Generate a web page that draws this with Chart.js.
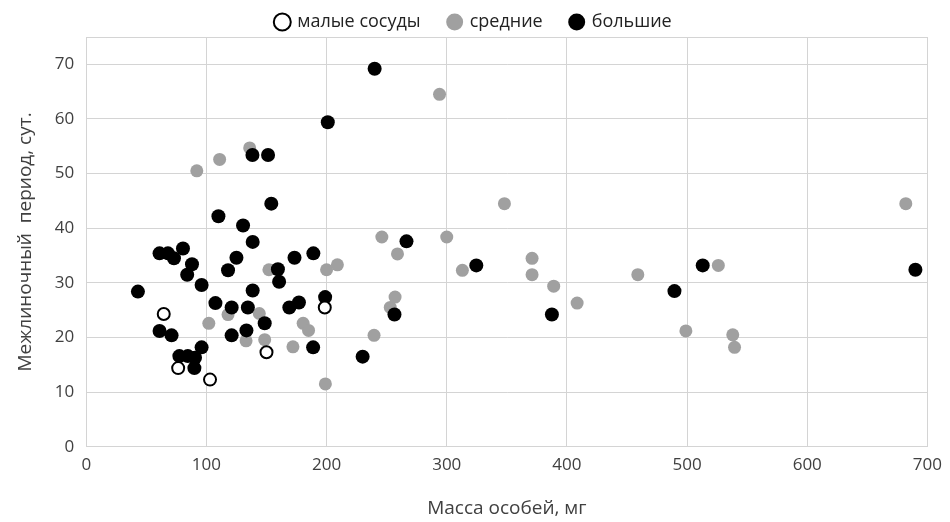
<!DOCTYPE html>
<html>
<head>
<meta charset="utf-8">
<script src="https://cdn.jsdelivr.net/npm/chart.js@4.4.0/dist/chart.umd.min.js"></script>
<style>
  html, body { margin: 0; padding: 0; background: #fff; }
  #wrap { width: 950px; height: 522px; }
</style>
</head>
<body>
<div id="wrap"><canvas id="massChart" width="950" height="522"></canvas></div>
<script>
// Серии: [масса, мг; межлиночный период, сут.]
const smallJars = [
  [64.5, 24.3], [76.5, 14.4], [103, 12.3], [150, 17.3], [198.5, 25.5]
];
const mediumJars = [
  [92, 50.5], [111, 52.6], [136, 54.7], [102, 22.6], [118, 24.2], [144, 24.4],
  [133, 19.4], [148.5, 19.6], [152, 32.4], [172, 18.3], [180.5, 22.6], [185, 21.3],
  [199, 11.5], [200, 32.4], [209, 33.3], [239.5, 20.4], [246, 38.4], [253, 25.5],
  [257, 27.4], [259, 35.3], [294, 64.5], [300, 38.4], [313, 32.3], [348, 44.5],
  [371, 34.5], [371, 31.5], [389, 29.4], [408.5, 26.3], [459, 31.5], [499, 21.2],
  [526, 33.2], [538, 20.5], [539.5, 18.2], [682, 44.5]
];
const largeJars = [
  [43, 28.4], [61, 35.4], [68, 35.4], [73, 34.5], [80.5, 36.3], [84, 31.5],
  [88, 33.4], [96, 29.6], [107.5, 26.3], [110, 42.2], [118, 32.3], [121, 25.5],
  [125, 34.6], [130.5, 40.5], [138.5, 37.5], [138.5, 28.6], [134.5, 25.5],
  [138.3, 53.4], [151.3, 53.4], [154, 44.5], [159.5, 32.5], [160.5, 30.2],
  [169, 25.5], [177, 26.4], [173.3, 34.6], [189, 35.4], [198.8, 27.4], [201, 59.4],
  [240, 69.2], [266.5, 37.6], [256.5, 24.2], [230, 16.5], [188.8, 18.2],
  [148.5, 22.6], [133.3, 21.3], [121, 20.4], [61, 21.2], [71, 20.4], [96, 18.2],
  [77.5, 16.6], [84.5, 16.6], [90.5, 16.3], [90, 14.4], [324.6, 33.2],
  [387.5, 24.2], [489.5, 28.5], [513, 33.2], [690, 32.4]
];

const seriesNames = ['малые сосуды', 'средние', 'большие'];
const xTicks = [0, 100, 200, 300, 400, 500, 600, 700];
const yTicks = [0, 10, 20, 30, 40, 50, 60, 70];

const toPoints = arr => arr.map(p => ({ x: p[0], y: p[1] }));
const font = "'Open Sans', sans-serif";
const gridColor = '#d4d4d4';

const ctx = document.getElementById('massChart').getContext('2d');

new Chart(ctx, {
  type: 'scatter',
  data: {
    datasets: [
      {
        label: seriesNames[0],
        data: toPoints(smallJars),
        backgroundColor: '#ffffff',
        borderColor: '#000000',
        borderWidth: 2,
        pointRadius: 6,
        order: 0
      },
      {
        label: seriesNames[1],
        data: toPoints(mediumJars),
        backgroundColor: '#a0a0a0',
        borderColor: '#a0a0a0',
        borderWidth: 0,
        pointRadius: 6.5,
        order: 2
      },
      {
        label: seriesNames[2],
        data: toPoints(largeJars),
        backgroundColor: '#000000',
        borderColor: '#000000',
        borderWidth: 0,
        pointRadius: 7,
        order: 1
      }
    ]
  },
  options: {
    responsive: false,
    animation: false,
    // отрицательный верх — чтобы легенда с широкими промежутками не съедала место
    layout: { padding: { left: 14, right: 16, top: -15, bottom: 2 } },
    scales: {
      x: {
        type: 'linear',
        min: xTicks[0],
        max: xTicks[xTicks.length - 1],
        afterBuildTicks: axis => { axis.ticks = xTicks.map(v => ({ value: v })); },
        ticks: { color: '#404040', font: { family: font, size: 17 }, padding: 8 },
        grid: { color: gridColor, lineWidth: 1, drawTicks: false },
        border: { color: gridColor },
        title: {
          display: true,
          text: 'Масса особей, мг',
          color: '#404040',
          font: { family: font, size: 19 },
          padding: { top: 14, bottom: 0 }
        }
      },
      y: {
        type: 'linear',
        min: 0,
        max: 75,
        afterBuildTicks: axis => { axis.ticks = yTicks.concat([75]).map(v => ({ value: v })); },
        ticks: {
          color: '#404040',
          font: { family: font, size: 17 },
          padding: 12,
          callback: v => (v === 75 ? '' : v)
        },
        grid: { color: gridColor, lineWidth: 1, drawTicks: false },
        border: { color: gridColor },
        title: {
          display: true,
          text: 'Межлиночный  период, сут.',
          color: '#404040',
          font: { family: font, size: 19 },
          padding: { top: 0, bottom: 6 }
        }
      }
    },
    plugins: {
      legend: {
        position: 'top',
        maxHeight: 52,
        labels: {
          usePointStyle: true,
          pointStyle: 'circle',
          boxWidth: 12,
          boxHeight: 12,
          color: '#222',
          font: { family: font, size: 18 },
          padding: 28,
          sort: (a, b) => a.datasetIndex - b.datasetIndex
        }
      },
      tooltip: { enabled: false }
    }
  }
});
</script>
</body>
</html>
